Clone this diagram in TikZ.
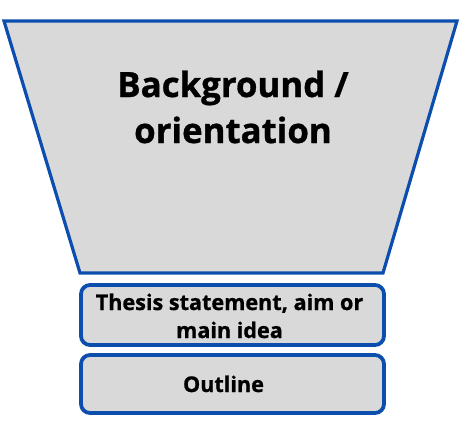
\documentclass[tikz,border=0pt]{standalone}
\usepackage{fontspec}
\setmainfont{Open Sans}[BoldFeatures={FakeBold=0.9}]
\definecolor{fblue}{HTML}{0B4EAE}
\definecolor{fgray}{HTML}{D9D9D9}
\begin{document}
\begin{tikzpicture}[x=1pt,y=-1pt,
  funnel/.style={draw=fblue,fill=fgray,line width=3.2pt,line join=miter},
  stagebox/.style={draw=fblue,fill=fgray,line width=3.8pt,rounded corners=9pt},
  lbl/.style={text=black,align=center,inner sep=0pt,anchor=base}]
\useasboundingbox (0,0) rectangle (461,421);
\draw[funnel] (4,21) -- (457,21) -- (383,273) -- (80,273) -- cycle;
\draw[stagebox] (81,285) rectangle (384,345);
\draw[stagebox] (81,355) rectangle (384,413);
\node[lbl,font=\fontsize{34.8}{46}\selectfont\bfseries] (bg) at (233,143) {Background /\\orientation};
\node[lbl,font=\fontsize{21.6}{28}\selectfont\bfseries] (th) at (229.5,338) {Thesis statement, aim or\\main idea};
\node[lbl,font=\fontsize{21.6}{28}\selectfont\bfseries] (ol) at (223.5,392) {Outline};
\end{tikzpicture}
\end{document}
